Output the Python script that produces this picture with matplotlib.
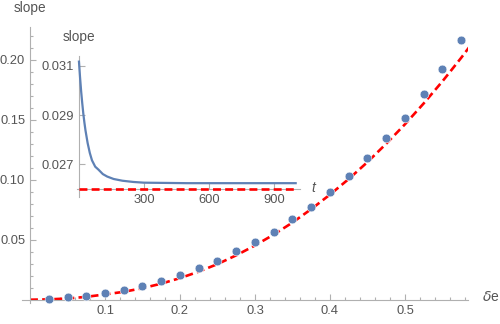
import matplotlib
matplotlib.use("Agg")
import matplotlib.pyplot as plt
from matplotlib.ticker import FixedLocator, FuncFormatter

plt.rcParams['font.family'] = ['Liberation Sans', 'DejaVu Sans']

# main chart: simulated slope vs delta e (dots) and theory curve (dashed)
de = [0.025, 0.05, 0.075, 0.1, 0.125, 0.15, 0.175, 0.2, 0.225, 0.25, 0.275, 0.3,
      0.325, 0.35, 0.375, 0.4, 0.425, 0.45, 0.475, 0.5, 0.525, 0.55, 0.575]
slope = [0.0010, 0.0020, 0.0033, 0.0053, 0.0081, 0.0114, 0.0158, 0.0203, 0.0261,
         0.0322, 0.0405, 0.0483, 0.0567, 0.0670, 0.0773, 0.0900, 0.1030, 0.1178,
         0.1345, 0.1517, 0.1712, 0.1923, 0.2164]
theory_x = [0.0, 0.025, 0.05, 0.075, 0.1, 0.125, 0.15, 0.175, 0.2, 0.225, 0.25,
            0.275, 0.3, 0.325, 0.35, 0.375, 0.4, 0.425, 0.45, 0.475, 0.5, 0.525,
            0.55, 0.575, 0.59]
theory_y = [0.0, 0.0003, 0.0010, 0.0024, 0.0044, 0.0066, 0.0096, 0.0134, 0.0180,
            0.0234, 0.0297, 0.0370, 0.0452, 0.0543, 0.0643, 0.0755, 0.0876, 0.1006,
            0.1147, 0.1300, 0.1462, 0.1636, 0.1820, 0.2016, 0.2140]

# inset: slope vs time t
t = [0, 5, 10, 15, 20, 25, 30, 40, 50, 60, 75, 90, 110, 130, 160, 200, 250,
     300, 400, 500, 700, 1000]
slope_t = [0.03117, 0.03053, 0.02997, 0.02949, 0.02906, 0.02870, 0.02838, 0.02786,
           0.02746, 0.02716, 0.02690, 0.02678, 0.02660, 0.02650, 0.02640, 0.02633,
           0.02628, 0.02625, 0.02624, 0.02623, 0.02623, 0.02623]
limit_t = [0, 1000]
limit_val = [0.0260, 0.0260]

blue = '#5E81B5'
axis_col = '#b0b0b0'
txt_col = '#555555'

fig = plt.figure(figsize=(5, 3.24), dpi=100)

ax = fig.add_axes([0.044, 0.0657, 0.8926, 0.851])
ax.set_xlim(-0.0107, 0.5845)
ax.set_ylim(-0.0025, 0.2273)
ax.plot(theory_x, theory_y, color='red', lw=1.9, ls=(0, (3.0, 1.6)), zorder=2)
ax.plot(de, slope, 'o', color=blue, ms=6.3, mec='white', mew=0.4, zorder=3)
for s in ['top', 'right']:
    ax.spines[s].set_visible(False)
for s in ['left', 'bottom']:
    ax.spines[s].set_position(('data', 0))
    ax.spines[s].set_color(axis_col)
    ax.spines[s].set_linewidth(0.8)
ax.xaxis.set_major_locator(FixedLocator([0.1, 0.2, 0.3, 0.4, 0.5]))
ax.xaxis.set_minor_locator(FixedLocator([0.02 * i for i in range(1, 30) if i % 5]))
ax.yaxis.set_major_locator(FixedLocator([0.05, 0.1, 0.15, 0.2]))
ax.yaxis.set_minor_locator(FixedLocator([0.01 * i for i in range(1, 23) if i % 5]))
ax.xaxis.set_major_formatter(FuncFormatter(lambda v, p: f"{v:.1f}"))
ax.yaxis.set_major_formatter(FuncFormatter(lambda v, p: f"{v:.2f}"))
ax.tick_params(which='both', direction='in', colors=axis_col, labelcolor=txt_col,
               labelsize=9.3, width=0.8)
ax.tick_params(which='major', length=4)
ax.tick_params(which='minor', length=2.3)
ax.tick_params(axis='y', pad=3.5)
ax.tick_params(axis='x', pad=4)
ax.patch.set_alpha(0)

fig.text(30 / 500, 1 - 8 / 324, "slope", ha='center', va='center',
         fontsize=9.8, color=txt_col)
fig.text(482 / 500, 1 - 297 / 324, r"$\delta$e", ha='left', va='center',
         fontsize=10, color=txt_col)

axin = fig.add_axes([0.1536, 0.3929, 0.4464, 0.4343])
axin.set_xlim(-10, 1020)
axin.set_ylim(0.02568, 0.03140)
axin.patch.set_alpha(0)
axin.plot(t, slope_t, color=blue, lw=1.6, zorder=3)
axin.plot(limit_t, limit_val, color='red', lw=1.9, ls=(0, (3.0, 1.6)), zorder=4)
for s in ['top', 'right']:
    axin.spines[s].set_visible(False)
axin.spines['left'].set_position(('data', 0))
axin.spines['bottom'].set_position(('data', 0.026))
for s in ['left', 'bottom']:
    axin.spines[s].set_color(axis_col)
    axin.spines[s].set_linewidth(0.8)
axin.set_xticks([300, 600, 900])
axin.set_yticks([0.027, 0.029, 0.031])
axin.yaxis.set_major_formatter(FuncFormatter(lambda v, p: f"{v:.3f}"))
axin.tick_params(which='both', direction='in', colors=axis_col, labelcolor=txt_col,
                 labelsize=9.3, width=0.8, length=4)
axin.tick_params(axis='y', pad=3.5)
axin.tick_params(axis='x', pad=4)

fig.text(79 / 500, 1 - 37 / 324, "slope", ha='center', va='center',
         fontsize=9.8, color=txt_col)
fig.text(311 / 500, 1 - 188 / 324, "t", ha='left', va='center',
         fontsize=10, color=txt_col, style='italic')

fig.savefig("out.png", dpi=100)
